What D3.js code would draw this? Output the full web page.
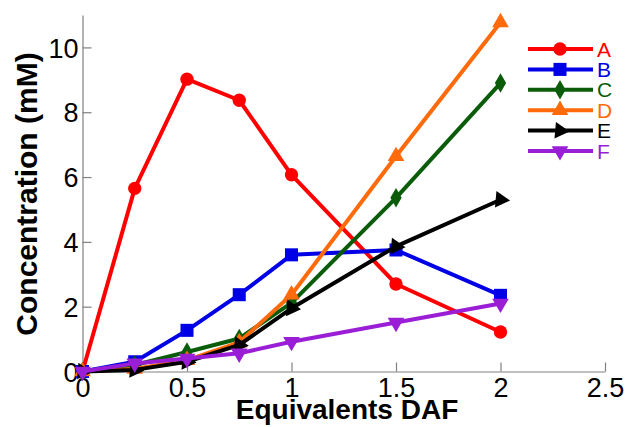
<!DOCTYPE html>
<html>
<head>
<meta charset="utf-8">
<script src="https://cdn.jsdelivr.net/npm/d3@7"></script>
<style>
  body { margin: 0; background: #fff; }
  svg { display: block; font-family: "Liberation Sans", Arial, sans-serif; }
</style>
</head>
<body>
<svg id="chart" width="628" height="427"></svg>
<script>
// data
const equivalents = [0, 0.25, 0.5, 0.75, 1, 1.5, 2];
const seriesNames = ["A", "B", "C", "D", "E", "F"];
const valuesA = [0, 5.65, 9.02, 8.37, 6.07, 2.7, 1.22];
const valuesB = [0, 0.3, 1.27, 2.37, 3.6, 3.75, 2.35];
const valuesC = [0, 0.2, 0.6, 1.02, 2.12, 5.36, 8.9];
const valuesD = [0, 0.08, 0.35, 0.9, 2.37, 6.64, 10.77];
const valuesE = [0, 0.05, 0.3, 0.82, 1.95, 3.86, 5.3];
const valuesF = [0, 0.25, 0.4, 0.56, 0.92, 1.51, 2.1];
const xTicks = [0, 0.5, 1, 1.5, 2, 2.5];
const yTicks = [0, 2, 4, 6, 8, 10];

const colors = ["#ff0000", "#0000e6", "#0a5c0a", "#ff6a0a", "#000000", "#9a1ed6"];
const allValues = [valuesA, valuesB, valuesC, valuesD, valuesE, valuesF];

const svg = d3.select("#chart");

const x = d3.scaleLinear().domain([0, 2.5]).range([82.5, 605]);
const y = d3.scaleLinear().domain([0, 11]).range([371.5, 15]);

// axes (matlab style: only left and bottom, ticks inside)
const axisColor = "#808080";
const gx = svg.append("g").attr("transform", "translate(0," + y(0) + ")")
    .call(d3.axisBottom(x).tickValues(xTicks).tickSizeInner(-9).tickSizeOuter(0)
        .tickFormat(d3.format("")));
const gy = svg.append("g").attr("transform", "translate(" + x(0) + ",0)")
    .call(d3.axisLeft(y).tickValues(yTicks).tickSizeInner(-9).tickSizeOuter(0));

[gx, gy].forEach(g => {
    g.select(".domain").attr("stroke", axisColor).attr("stroke-width", 1.2);
    g.selectAll(".tick line").attr("stroke", axisColor).attr("stroke-width", 1.2);
    g.selectAll(".tick text").attr("fill", "#000").style("font-size", "27px");
});
gx.selectAll(".tick text").attr("y", 6).attr("dy", "0.71em");
gy.selectAll(".tick text").attr("x", -4).attr("dy", "0.36em");

// axis titles
svg.append("text")
    .attr("x", 347).attr("y", 419)
    .attr("text-anchor", "middle")
    .style("font-size", "28px").style("font-weight", "bold")
    .text("Equivalents DAF");

svg.append("text")
    .attr("transform", "translate(37,194) rotate(-90)")
    .attr("text-anchor", "middle")
    .style("font-size", "30px").style("font-weight", "bold")
    .text("Concentration (mM)");

// marker shapes
function markerPath(i) {
    if (i == 0) return d3.symbol().type(d3.symbolCircle).size(140)();
    if (i == 1) return d3.symbol().type(d3.symbolSquare).size(170)();
    if (i == 2) return d3.symbol().type(d3.symbolDiamond).size(110)();
    return d3.symbol().type(d3.symbolTriangle).size(120)();
}
const markerRotate = [0, 0, 0, 0, 95, 180];

const line = d3.line()
    .x((d, i) => x(equivalents[i]))
    .y(d => y(d));

allValues.forEach((vals, s) => {
    const g = svg.append("g");
    g.append("path")
        .datum(vals)
        .attr("d", line)
        .attr("fill", "none")
        .attr("stroke", colors[s])
        .attr("stroke-width", 4)
        .attr("stroke-linejoin", "round");

    g.selectAll("path.mk")
        .data(vals)
        .enter()
        .append("path")
        .attr("class", "mk")
        .attr("d", markerPath(s))
        .attr("transform", (d, i) => "translate(" + x(equivalents[i]) + "," + y(d) + ") rotate(" + markerRotate[s] + ")")
        .attr("fill", colors[s]);
});

// legend
const legend = svg.append("g");
seriesNames.forEach((name, s) => {
    const ly = 49 + s * 20.4;
    legend.append("line")
        .attr("x1", 528).attr("x2", 593)
        .attr("y1", ly).attr("y2", ly)
        .attr("stroke", colors[s]).attr("stroke-width", 4);
    legend.append("path")
        .attr("d", markerPath(s))
        .attr("transform", "translate(560," + ly + ") rotate(" + markerRotate[s] + ")")
        .attr("fill", colors[s]);
    legend.append("text")
        .attr("x", 597).attr("y", ly)
        .attr("dy", "0.36em")
        .style("font-size", "21px")
        .attr("fill", colors[s])
        .text(name);
});
</script>
</body>
</html>
